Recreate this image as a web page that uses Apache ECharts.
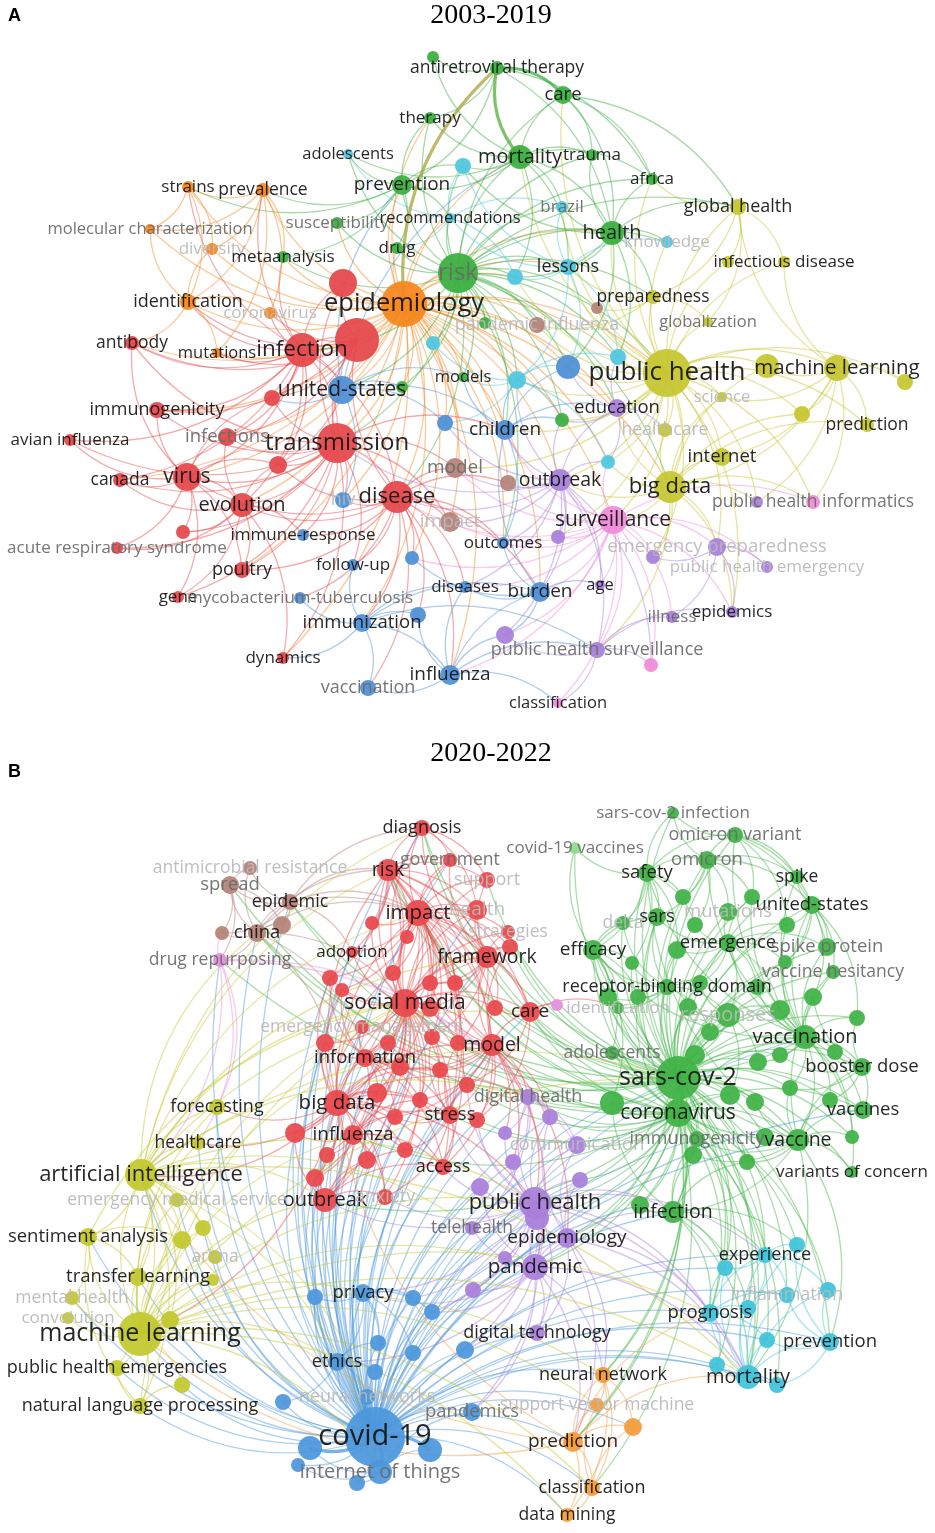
<!DOCTYPE html>
<html>
<head>
<meta charset="utf-8">
<title>Keyword co-occurrence networks</title>
<script src="https://cdn.jsdelivr.net/npm/echarts@6/dist/echarts.min.js"></script>
<style>
  html, body { margin: 0; padding: 0; background: #fff; }
  #chart { width: 935px; height: 1533px; }
</style>
</head>
<body>
<div id="chart"></div>
<script>
// node: [keyword, cluster, x, y, weight, labelTier]  (tier -1 = no label, 0 dark, 1 grey, 2 faint)
const nodesA = [
  ['infection', 'R', 302, 350, 17, 0], ['transmission', 'R', 337, 443, 20, 0], ['disease', 'R', 397, 497, 16, 0],
  ['virus', 'R', 187, 477, 14, 0], ['evolution', 'R', 242, 505, 12, 0], ['antibody', 'R', 132, 343, 7, 0],
  ['immunogenicity', 'R', 157, 410, 8, 0], ['infections', 'R', 227, 437, 9, 1], ['avian influenza', 'R', 70, 440, 6, 0],
  ['canada', 'R', 120, 480, 7, 0], ['acute respiratory syndrome', 'R', 117, 548, 6, 1], ['poultry', 'R', 242, 570, 8, 0],
  ['gene', 'R', 178, 597, 6, 0], ['dynamics', 'R', 283, 658, 6, 0], ['r1', 'R', 343, 283, 14, -1],
  ['r2', 'R', 357, 340, 22, -1], ['r3', 'R', 272, 398, 8, -1], ['r4', 'R', 278, 465, 9, -1], ['r5', 'R', 183, 532, 7, -1],
  ['epidemiology', 'O', 404, 304, 23, 0], ['strains', 'O', 188, 187, 6, 0], ['prevalence', 'O', 263, 190, 7, 0],
  ['molecular characterization', 'O', 150, 229, 5, 1], ['diversity', 'O', 212, 249, 6, 2], ['identification', 'O', 188, 302, 8, 0],
  ['coronavirus', 'O', 270, 313, 6, 2], ['mutations', 'O', 217, 353, 5, 0],
  ['g1', 'G', 433, 57, 6, -1], ['antiretroviral therapy', 'G', 497, 68, 7, 0], ['care', 'G', 563, 95, 9, 0],
  ['therapy', 'G', 430, 118, 6, 0], ['mortality', 'G', 520, 157, 12, 0], ['trauma', 'G', 592, 155, 6, 0],
  ['prevention', 'G', 402, 185, 10, 0], ['susceptibility', 'G', 337, 223, 6, 1], ['metaanalysis', 'G', 283, 257, 6, 0],
  ['drug', 'G', 397, 248, 6, 0], ['risk', 'G', 458, 273, 20, 1], ['health', 'G', 612, 233, 12, 0], ['africa', 'G', 652, 179, 6, 0],
  ['g2', 'G', 485, 323, 6, -1], ['models', 'G', 463, 377, 5, 0], ['g3', 'G', 402, 387, 6, -1], ['g4', 'G', 562, 420, 7, -1],
  ['adolescents', 'C', 348, 154, 5, 0], ['c1', 'C', 463, 166, 8, -1], ['recommendations', 'C', 450, 218, 5, 0],
  ['brazil', 'C', 562, 207, 6, 1], ['lessons', 'C', 568, 267, 8, 0], ['knowledge', 'C', 667, 242, 6, 2],
  ['c2', 'C', 515, 277, 8, -1], ['c3', 'C', 433, 343, 7, -1], ['c4', 'C', 517, 380, 9, -1], ['c5', 'C', 618, 357, 8, -1],
  ['c6', 'C', 608, 462, 7, -1],
  ['united-states', 'B', 342, 390, 14, 0], ['b1', 'B', 568, 367, 12, -1], ['children', 'B', 505, 430, 10, 0],
  ['b2', 'B', 445, 423, 8, -1], ['hiv', 'B', 343, 500, 8, 2], ['immune-response', 'B', 303, 535, 6, 0],
  ['follow-up', 'B', 353, 565, 6, 0], ['b3', 'B', 412, 558, 7, -1], ['outcomes', 'B', 503, 543, 6, 0],
  ['mycobacterium-tuberculosis', 'B', 300, 598, 6, 1], ['immunization', 'B', 362, 623, 9, 0], ['b4', 'B', 418, 615, 8, -1],
  ['diseases', 'B', 465, 587, 6, 0], ['burden', 'B', 540, 592, 10, 0], ['influenza', 'B', 450, 675, 10, 0],
  ['vaccination', 'B', 368, 688, 8, 1],
  ['public health', 'Y', 667, 373, 24, 0], ['global health', 'Y', 738, 207, 8, 0], ['y1', 'Y', 728, 262, 6, -1],
  ['infectious disease', 'Y', 784, 262, 6, 0], ['preparedness', 'Y', 653, 297, 7, 0], ['globalization', 'Y', 708, 322, 5, 1],
  ['y2', 'Y', 767, 366, 12, -1], ['machine learning', 'Y', 837, 368, 13, 0], ['y3', 'Y', 905, 382, 8, -1],
  ['science', 'Y', 722, 397, 5, 2], ['y4', 'Y', 802, 414, 8, -1], ['prediction', 'Y', 867, 425, 7, 0],
  ['healthcare', 'Y', 665, 430, 7, 2], ['internet', 'Y', 722, 457, 9, 0], ['big data', 'Y', 670, 487, 16, 0],
  ['education', 'P', 617, 408, 9, 0], ['outbreak', 'P', 560, 480, 11, 0], ['p1', 'P', 757, 502, 6, -1],
  ['p2', 'P', 558, 537, 7, -1], ['emergency preparedness', 'P', 717, 547, 9, 2], ['p3', 'P', 653, 557, 7, -1],
  ['public health emergency', 'P', 767, 567, 6, 2], ['age', 'P', 600, 585, 5, 0], ['illness', 'P', 672, 617, 6, 1],
  ['epidemics', 'P', 732, 612, 6, 0], ['p4', 'P', 505, 635, 9, -1], ['public health surveillance', 'P', 597, 650, 8, 1],
  ['surveillance', 'K', 613, 520, 14, 0], ['public health informatics', 'K', 813, 502, 7, 1], ['k1', 'K', 651, 665, 7, -1],
  ['classification', 'K', 558, 703, 5, 0],
  ['pandemic influenza', 'N', 537, 325, 8, 2], ['n1', 'N', 597, 308, 6, -1], ['model', 'N', 455, 468, 10, 1],
  ['impact', 'N', 450, 522, 10, 2], ['n2', 'N', 508, 483, 8, -1]
];

const linksA = [
  ['epidemiology', 'infection|transmission|disease|virus|evolution|r1|r2|risk|prevention|mortality|prevalence|strains|identification|molecular characterization|diversity|coronavirus|mutations|united-states|children|public health|big data|surveillance|outbreak|model|impact|health|lessons|c3|c4|b2|infections|immunogenicity|antibody|canada|metaanalysis|drug|susceptibility|recommendations|pandemic influenza|g2|models|c2|education|burden|influenza|immunization|hiv|dynamics|poultry|therapy|g3|c5|c6|b1|b3|g4|n2|outcomes'],
  ['risk', 'prevention|mortality|health|therapy|care|adolescents|c1|recommendations|brazil|lessons|c2|public health|global health|children|b1|c4|c5|outcomes|disease|transmission|infection|metaanalysis|drug|susceptibility|knowledge|africa|trauma|preparedness|big data|education|g2|c3|g3|g4|models|pandemic influenza|n1|united-states'],
  ['public health', 'global health|infectious disease|y1|preparedness|globalization|y2|machine learning|y3|science|y4|prediction|healthcare|internet|big data|surveillance|education|b1|c5|c6|lessons|health|knowledge|brazil|outbreak|emergency preparedness|public health informatics|children|care|africa|mortality|p2|epidemics|model|n1|pandemic influenza|c4|g4|c2|p1|p3'],
  ['machine learning', 'y2|y3|y4|prediction|internet|big data|global health|infectious disease|science|public health informatics|p1'],
  ['big data', 'internet|surveillance|public health informatics|p1|emergency preparedness|healthcare|science|prediction|y4|outbreak|public health surveillance|epidemics|education|p3|y2|c6'],
  ['surveillance', 'outbreak|p2|p3|emergency preparedness|public health emergency|age|illness|epidemics|p4|public health surveillance|k1|classification|burden|influenza|outcomes|children|n2|model|impact|public health informatics|c6|diseases|b3|disease'],
  ['outbreak', 'n2|model|impact|p2|p4|burden|diseases|outcomes|children|b2|age|public health surveillance|k1|education|c6|transmission|disease|c4|g4'],
  ['infection', 'transmission|virus|antibody|immunogenicity|infections|r1|r2|r3|mutations|identification|united-states|prevalence|strains|coronavirus|canada|evolution|disease|r4|avian influenza|metaanalysis'],
  ['transmission', 'virus|evolution|r3|r4|r2|infections|immunogenicity|canada|avian influenza|united-states|disease|poultry|gene|r5|acute respiratory syndrome|immune-response|hiv|model|impact|dynamics|follow-up|children|r1|antibody'],
  ['disease', 'hiv|immune-response|follow-up|b3|b4|impact|model|outcomes|diseases|burden|influenza|immunization|vaccination|mycobacterium-tuberculosis|evolution|virus|r4|n2|r2|poultry'],
  ['virus', 'canada|avian influenza|immunogenicity|infections|evolution|r5|acute respiratory syndrome|gene|poultry|antibody|r4|r3'],
  ['evolution', 'r5|poultry|gene|dynamics|acute respiratory syndrome|immune-response|canada|infections|r4'],
  ['r2', 'r1|r3|r4|antibody|immunogenicity|infections|mutations|identification|coronavirus'],
  ['united-states', 'r2|r3|children|hiv|models|g3|b2|mortality|prevention'],
  ['mortality', 'care|therapy|trauma|prevention|health|africa|g1|c1|adolescents|brazil|lessons|c2'],
  ['antiretroviral therapy', 'g1|therapy|prevention|health|africa'],
  ['care', 'health|trauma|global health|africa'],
  ['health', 'africa|trauma|brazil|lessons|knowledge|global health|preparedness|c5|c2|c1|b1'],
  ['lessons', 'c2|c5|brazil|knowledge|recommendations|c1|b1|c4'],
  ['c4', 'c3|c5|b1|models|g4|c6|b2'],
  ['recommendations', 'c1|adolescents|drug|brazil|c2'],
  ['prevention', 'adolescents|c1|therapy|susceptibility|drug|metaanalysis|recommendations|prevalence|strains'],
  ['prevalence', 'strains|molecular characterization|diversity|identification|metaanalysis|coronavirus|mutations'],
  ['strains', 'molecular characterization|identification|diversity'],
  ['identification', 'antibody|mutations|coronavirus|molecular characterization|diversity'],
  ['immunization', 'influenza|vaccination|b4|mycobacterium-tuberculosis|follow-up|dynamics|diseases|burden|public health surveillance'],
  ['influenza', 'vaccination|b4|burden|p4|public health surveillance|classification|diseases'],
  ['burden', 'diseases|age|p4|outcomes|b3|children'],
  ['children', 'b2|outcomes|b1|c4|education|g4|models'],
  ['education', 'c5|c6|g4|healthcare|b1'],
  ['public health surveillance', 'k1|illness|epidemics|p4|classification'],
  ['emergency preparedness', 'public health emergency|p3|epidemics|illness'],
  ['global health', 'infectious disease|y1|globalization|preparedness|africa'],
  ['preparedness', 'pandemic influenza|n1|globalization|lessons']
];
const strongA = [['antiretroviral therapy', 'care'], ['epidemiology', 'antiretroviral therapy'], ['mortality', 'antiretroviral therapy']];

const nodesB = [
  ['diagnosis', 'R', 422, 828, 8, 0], ['government', 'R', 450, 860, 7, 1], ['risk', 'R', 388, 870, 11, 0],
  ['support', 'R', 487, 880, 8, 2], ['impact', 'R', 418, 913, 13, 0], ['health', 'R', 477, 910, 10, 2],
  ['strategies', 'R', 508, 932, 7, 2], ['r1', 'R', 372, 923, 7, -1], ['r2', 'R', 407, 937, 7, -1], ['r3', 'R', 510, 947, 8, -1],
  ['adoption', 'R', 352, 952, 6, 0], ['framework', 'R', 487, 957, 11, 0], ['r4', 'R', 330, 978, 8, -1],
  ['r5', 'R', 342, 990, 7, -1], ['r6', 'R', 393, 973, 8, -1], ['r7', 'R', 430, 983, 8, -1], ['r8', 'R', 455, 983, 8, -1],
  ['social media', 'R', 405, 1003, 14, 0], ['r9', 'R', 430, 1008, 9, -1], ['r10', 'R', 495, 1008, 8, -1],
  ['care', 'R', 530, 1012, 10, 0], ['emergency management', 'R', 362, 1027, 7, 2], ['r11', 'R', 325, 1043, 9, -1],
  ['r12', 'R', 388, 1043, 8, -1], ['r13', 'R', 432, 1037, 8, -1], ['r14', 'R', 458, 1043, 8, -1],
  ['information', 'R', 365, 1058, 9, 0], ['model', 'R', 492, 1045, 11, 0], ['r15', 'R', 440, 1070, 8, -1],
  ['r16', 'R', 400, 1067, 9, -1], ['r17', 'R', 467, 1085, 8, -1], ['r18', 'R', 377, 1093, 10, -1],
  ['big data', 'R', 337, 1103, 13, 0], ['r19', 'R', 420, 1100, 8, -1], ['stress', 'R', 450, 1115, 9, 0],
  ['r20', 'R', 477, 1120, 8, -1], ['r21', 'R', 295, 1133, 10, -1], ['influenza', 'R', 353, 1135, 10, 0],
  ['r22', 'R', 395, 1117, 8, -1], ['r23', 'R', 405, 1150, 8, -1], ['r24', 'R', 327, 1155, 8, -1],
  ['access', 'R', 443, 1167, 8, 0], ['r25', 'R', 367, 1160, 9, -1], ['r26', 'R', 315, 1178, 9, -1],
  ['outbreak', 'R', 325, 1200, 12, 0], ['anxiety', 'R', 385, 1197, 8, 2],
  ['antimicrobial resistance', 'N', 250, 868, 7, 2], ['spread', 'N', 230, 885, 9, 1], ['epidemic', 'N', 290, 902, 8, 0],
  ['n1', 'N', 282, 925, 9, -1], ['china', 'N', 257, 933, 9, 0], ['n2', 'N', 222, 933, 7, -1],
  ['drug repurposing', 'K', 220, 960, 7, 1], ['k1', 'K', 557, 1005, 6, -1],
  ['sars-cov-2 infection', 'G', 673, 813, 6, 1], ['omicron variant', 'G', 735, 835, 8, 1], ['covid-19 vaccines', 'L', 575, 848, 6, 1],
  ['omicron', 'G', 707, 860, 9, 1], ['safety', 'G', 647, 873, 9, 0], ['spike', 'G', 797, 877, 7, 0],
  ['g1', 'G', 683, 897, 8, -1], ['g2', 'G', 752, 897, 8, -1], ['united-states', 'G', 812, 905, 9, 0],
  ['mutations', 'G', 728, 912, 9, 2], ['sars', 'G', 657, 917, 9, 0], ['delta', 'G', 623, 923, 7, 2],
  ['g3', 'G', 695, 925, 8, -1], ['g4', 'G', 787, 925, 8, -1], ['efficacy', 'G', 593, 950, 10, 0],
  ['g5', 'G', 677, 950, 9, -1], ['emergence', 'G', 728, 943, 9, 0], ['spike protein', 'G', 827, 947, 9, 1],
  ['g6', 'G', 785, 962, 7, -1], ['vaccine hesitancy', 'G', 833, 972, 7, 1], ['g7', 'G', 632, 963, 7, -1],
  ['receptor-binding domain', 'G', 667, 987, 8, 0], ['g8', 'G', 700, 983, 8, -1], ['g9', 'G', 757, 987, 8, -1],
  ['g10', 'G', 608, 997, 9, -1], ['g11', 'G', 638, 997, 8, -1], ['g12', 'G', 813, 997, 9, -1], ['g13', 'G', 688, 1007, 9, -1],
  ['responses', 'G', 728, 1015, 12, 2], ['g14', 'G', 780, 1010, 10, -1], ['identification', 'G', 618, 1008, 6, 2],
  ['g15', 'G', 857, 1018, 8, -1], ['g16', 'G', 710, 1032, 9, -1], ['vaccination', 'G', 805, 1037, 12, 0],
  ['adolescents', 'G', 612, 1053, 7, 1], ['g17', 'G', 695, 1055, 10, -1], ['g18', 'G', 758, 1062, 9, -1],
  ['g19', 'G', 780, 1055, 8, -1], ['g20', 'G', 835, 1052, 8, -1], ['booster dose', 'G', 862, 1067, 9, 0],
  ['sars-cov-2', 'G', 678, 1078, 22, 0], ['g21', 'G', 730, 1095, 10, -1], ['g22', 'G', 790, 1088, 8, -1],
  ['g23', 'G', 755, 1102, 9, -1], ['coronavirus', 'G', 678, 1113, 14, 0], ['g24', 'G', 612, 1103, 12, -1],
  ['g25', 'G', 830, 1100, 8, -1], ['vaccines', 'G', 863, 1110, 9, 0], ['immunogenicity', 'G', 697, 1139, 8, 1],
  ['g26', 'G', 693, 1155, 9, -1], ['g27', 'G', 747, 1162, 8, -1], ['g28', 'G', 765, 1137, 9, -1],
  ['vaccine', 'G', 798, 1140, 11, 0], ['g29', 'G', 852, 1137, 7, -1], ['variants of concern', 'G', 852, 1172, 6, 0],
  ['g30', 'G', 640, 1205, 9, -1], ['infection', 'G', 673, 1212, 11, 0],
  ['c1', 'C', 725, 1268, 8, -1], ['experience', 'C', 765, 1255, 8, 0], ['c2', 'C', 797, 1245, 8, -1],
  ['inflammation', 'C', 787, 1295, 8, 2], ['c3', 'C', 828, 1290, 8, -1], ['prognosis', 'C', 710, 1313, 9, 0],
  ['c4', 'C', 748, 1308, 8, -1], ['c5', 'C', 767, 1340, 8, -1], ['prevention', 'C', 830, 1342, 9, 0],
  ['c6', 'C', 717, 1365, 8, -1], ['mortality', 'C', 748, 1377, 12, 0], ['c7', 'C', 777, 1385, 8, -1],
  ['digital health', 'P', 528, 1097, 8, 1], ['p1', 'P', 550, 1117, 8, -1], ['p2', 'P', 505, 1133, 7, -1],
  ['communication', 'P', 577, 1145, 9, 2], ['p3', 'P', 513, 1162, 8, -1], ['p4', 'P', 480, 1187, 9, -1],
  ['p5', 'P', 580, 1180, 8, -1], ['public health', 'P', 535, 1203, 16, 0], ['p6', 'P', 537, 1218, 12, -1],
  ['telehealth', 'P', 472, 1228, 7, 1], ['epidemiology', 'P', 567, 1238, 10, 0], ['p7', 'P', 505, 1258, 7, -1],
  ['pandemic', 'P', 535, 1267, 13, 0], ['p8', 'P', 473, 1290, 8, -1], ['digital technology', 'P', 537, 1333, 8, 0],
  ['privacy', 'B', 363, 1293, 9, 0], ['b1', 'B', 315, 1297, 8, -1], ['b2', 'B', 413, 1298, 8, -1],
  ['b3', 'B', 432, 1312, 8, -1], ['b4', 'B', 378, 1343, 8, -1], ['b5', 'B', 413, 1353, 8, -1],
  ['b6', 'B', 465, 1350, 9, -1], ['ethics', 'B', 337, 1362, 9, 0], ['b7', 'B', 375, 1372, 8, -1],
  ['neural networks', 'B', 367, 1397, 8, 2], ['b8', 'B', 283, 1402, 8, -1], ['pandemics', 'B', 472, 1412, 9, 1],
  ['covid-19', 'B', 375, 1437, 30, 0], ['b9', 'B', 430, 1450, 12, -1], ['b10', 'B', 310, 1448, 12, -1],
  ['internet of things', 'B', 380, 1472, 12, 1], ['b11', 'B', 357, 1483, 8, -1], ['b12', 'B', 298, 1465, 7, -1],
  ['neural network', 'O', 603, 1375, 8, 0], ['support vector machine', 'O', 597, 1405, 7, 2], ['o1', 'O', 633, 1427, 9, -1],
  ['prediction', 'O', 573, 1442, 10, 0], ['classification', 'O', 592, 1488, 8, 0], ['data mining', 'O', 567, 1515, 7, 0],
  ['forecasting', 'Y', 217, 1107, 8, 0], ['healthcare', 'Y', 198, 1143, 7, 0], ['artificial intelligence', 'Y', 141, 1175, 16, 0],
  ['emergency medical service', 'Y', 177, 1200, 7, 2], ['sentiment analysis', 'Y', 88, 1237, 9, 0],
  ['y1', 'Y', 182, 1240, 9, -1], ['y2', 'Y', 203, 1228, 8, -1], ['arima', 'Y', 215, 1257, 7, 2],
  ['transfer learning', 'Y', 138, 1277, 9, 0], ['y3', 'Y', 213, 1280, 6, -1], ['mental health', 'Y', 72, 1298, 7, 2],
  ['convolution', 'Y', 68, 1318, 6, 2], ['y4', 'Y', 170, 1320, 9, -1], ['machine learning', 'Y', 140, 1334, 22, 0],
  ['public health emergencies', 'Y', 117, 1368, 8, 0], ['y5', 'Y', 182, 1385, 8, -1],
  ['natural language processing', 'Y', 140, 1406, 8, 0]
];

const linksB = [
  ['covid-19', 'machine learning|artificial intelligence|natural language processing|public health emergencies|transfer learning|sentiment analysis|forecasting|healthcare|y1|y2|y4|y5|mental health|arima|privacy|b1|b2|b3|b4|b5|b6|b7|b8|b9|b10|b11|b12|ethics|neural networks|pandemics|internet of things|public health|pandemic|epidemiology|telehealth|digital technology|digital health|communication|p1|p3|p4|p5|p6|p7|p8|neural network|support vector machine|prediction|classification|data mining|o1|mortality|prognosis|prevention|experience|c1|c5|c6|c7|inflammation|sars-cov-2|coronavirus|infection|vaccine|vaccination|vaccines|g24|g30|immunogenicity|big data|social media|outbreak|influenza|information|model|stress|access|anxiety|care|impact|risk|r18|r21|r24|r26|china|epidemic|drug repurposing|emergency medical service|diagnosis|framework|r16|r22|r25|r4|r5|r11|r12|r13|r15|r19|r23|adoption|emergency management|government|health|r17|r20'],
  ['sars-cov-2', 'sars-cov-2 infection|omicron variant|covid-19 vaccines|omicron|safety|spike|g1|g2|united-states|mutations|sars|delta|g3|g4|efficacy|g5|emergence|spike protein|g6|vaccine hesitancy|g7|receptor-binding domain|g8|g9|g10|g11|g12|g13|responses|g14|identification|g15|g16|vaccination|adolescents|g17|g18|g19|g20|booster dose|g21|g22|g23|coronavirus|g24|g25|vaccines|immunogenicity|g26|g27|g28|vaccine|g29|variants of concern|g30|infection|mortality|prognosis|experience|prevention|c1|c4|c6|inflammation|public health|pandemic|epidemiology|social media|model|care|risk|impact|diagnosis|china|epidemic|drug repurposing|framework|prediction|neural network|digital health|r10|r14|r3|strategies|support'],
  ['coronavirus', 'sars|efficacy|g10|g11|g13|g16|g17|g21|g24|g26|infection|g30|immunogenicity|vaccine|vaccines|vaccination|mortality|prognosis|experience|c1|c5|public health|pandemic|p5|p6|epidemiology|communication|digital health|care|model|stress|r17|r20|outbreak|influenza|china|spread|epidemic|risk|impact|diagnosis|prediction|classification|neural network|c2|c3|c7|p1'],
  ['vaccination', 'g9|g12|g14|g15|g18|g19|g20|booster dose|vaccines|vaccine|vaccine hesitancy|spike protein|g6|g22|g25|g29|variants of concern|omicron|omicron variant|safety|efficacy|adolescents|g4|united-states|spike|g2|emergence'],
  ['vaccine', 'vaccines|g28|g27|g29|variants of concern|booster dose|g25|g22|g23|immunogenicity|g26|safety|efficacy|vaccine hesitancy|infection|adolescents|mortality|prevention'],
  ['safety', 'sars-cov-2 infection|omicron|omicron variant|sars|delta|g1|efficacy|g7|covid-19 vaccines|g3|g5'],
  ['omicron', 'omicron variant|sars-cov-2 infection|g1|g2|g3|mutations|sars|spike|united-states'],
  ['omicron variant', 'spike|g2|united-states|g4|spike protein|sars-cov-2 infection'],
  ['united-states', 'spike|g4|g6|spike protein|vaccine hesitancy|g12|g15|g9'],
  ['emergence', 'mutations|g2|g3|g4|g5|g6|g8|g9|spike protein|receptor-binding domain|responses|g14|sars'],
  ['receptor-binding domain', 'g7|g8|g10|g11|g13|responses|g16|sars|delta|efficacy|identification|g5'],
  ['efficacy', 'g7|g10|g11|delta|sars|adolescents|g24|identification|covid-19 vaccines'],
  ['booster dose', 'g20|g22|g25|vaccines|g15|g19|g12'],
  ['responses', 'g13|g14|g16|g17|g18|g21|g9|g8'],
  ['infection', 'g30|g26|g27|immunogenicity|g24|vaccine|mortality|prognosis|experience|c1|c2|c4'],
  ['mortality', 'c1|c4|c5|c6|c7|prognosis|prevention|inflammation|experience|c2|c3'],
  ['prognosis', 'c4|c1|experience|inflammation|c5|c6'],
  ['experience', 'c1|c2|c3|inflammation|c4'],
  ['prevention', 'c3|c5|c7|inflammation|c2'],
  ['social media', 'r1|r2|r3|r4|r5|r6|r7|r8|r9|r10|r11|r12|r13|r14|r15|r16|r17|r18|r19|risk|impact|framework|adoption|information|model|care|big data|influenza|stress|emergency management|health|strategies|support|government|diagnosis|access|outbreak|anxiety|r21|r22|r23|r24|r25|r26'],
  ['big data', 'r11|r16|r18|r19|r21|r22|r23|r24|r25|r26|information|influenza|stress|access|outbreak|anxiety|emergency management|r4|r5|framework|impact|model|forecasting|healthcare|artificial intelligence|machine learning|public health|digital health|r12|r15|r6|risk'],
  ['impact', 'risk|diagnosis|government|support|health|strategies|r1|r2|r3|adoption|framework|r6|r7|r8|model|care|information|r13|r14|stress|access|r4|r5|r9|r10|r12|r16'],
  ['risk', 'diagnosis|government|support|r1|r2|adoption|framework|health|r6|r9|model|care|stress|r4|r7|r8|information'],
  ['model', 'care|framework|r3|r8|r9|r10|r13|r14|r15|r17|r20|stress|information|r19|access|digital health|p1|p2|p3|public health|epidemiology|pandemic|r7|r12|r16|r22'],
  ['framework', 'health|strategies|r3|r10|r8|care|support|government|diagnosis|r7|r9|r13|r14'],
  ['information', 'r11|r12|r15|r16|r18|r4|r5|emergency management|influenza|access|r19|r22|stress'],
  ['influenza', 'r21|r22|r23|r24|r25|r26|access|outbreak|anxiety|stress|r18|r19'],
  ['outbreak', 'r24|r25|r26|anxiety|access|r21|r23'],
  ['stress', 'r15|r17|r19|r20|r22|r23|access|anxiety|r13|r14'],
  ['diagnosis', 'government|support|health'],
  ['care', 'r10|r20|r17|identification|k1'],
  ['china', 'spread|epidemic|n1|n2|antimicrobial resistance|drug repurposing|risk|impact|social media|big data|information'],
  ['epidemic', 'spread|n1|antimicrobial resistance|n2|risk|diagnosis|impact|adoption|framework'],
  ['spread', 'antimicrobial resistance|n2|n1|drug repurposing'],
  ['drug repurposing', 'n2|forecasting|healthcare|artificial intelligence|digital health|communication'],
  ['public health', 'digital health|p1|p2|communication|p3|p4|p5|p6|telehealth|epidemiology|pandemic|p7|p8|digital technology|access|stress|r20|r17|outbreak|anxiety|privacy|b2|b3|b6|pandemics|mortality|infection|experience|prognosis'],
  ['pandemic', 'p6|p7|p8|telehealth|epidemiology|digital technology|p4|p5|privacy|b3|b6|pandemics|ethics|infection|neural network|prediction|mortality'],
  ['epidemiology', 'p5|p6|communication|p1|digital technology|prediction|neural network|mortality|prognosis'],
  ['digital health', 'p1|p2|communication|p3|telehealth'],
  ['privacy', 'b1|b2|b3|ethics|b4|b5|b7'],
  ['ethics', 'b1|b4|b7|b8|neural networks'],
  ['internet of things', 'b9|b10|b11|b12|neural networks|pandemics'],
  ['prediction', 'neural network|support vector machine|o1|classification|data mining|machine learning|artificial intelligence|mortality|prognosis|big data'],
  ['neural network', 'support vector machine|o1|classification|data mining'],
  ['classification', 'data mining|o1|support vector machine'],
  ['machine learning', 'y4|y5|public health emergencies|natural language processing|transfer learning|mental health|convolution|sentiment analysis|y1|y2|y3|arima|artificial intelligence|forecasting|healthcare|emergency medical service|big data|social media|classification|data mining|neural network|support vector machine|mortality|prognosis|sars-cov-2|public health|pandemic|information|influenza|outbreak|privacy|ethics|internet of things'],
  ['artificial intelligence', 'healthcare|forecasting|emergency medical service|sentiment analysis|y1|y2|arima|transfer learning|y4|public health emergencies|natural language processing|social media|diagnosis|framework|impact|risk|care|public health|mortality|sars-cov-2|digital health|telehealth|outbreak|internet of things|neural networks|china'],
  ['natural language processing', 'public health emergencies|y5|sentiment analysis|social media'],
  ['sentiment analysis', 'transfer learning|mental health|y1|social media']
];
const strongB = [['covid-19', 'b9'], ['covid-19', 'b10'], ['covid-19', 'internet of things'], ['sars-cov-2', 'coronavirus']];

const colorsA = { R: '#e5474b', O: '#f5871c', G: '#3aae3e', C: '#4fc6df', B: '#4d8fd5', Y: '#c6c62f', P: '#a780da', K: '#ef8bd9', N: '#b4827a' };
const colorsB = { R: '#e8484c', G: '#40b346', L: '#8fdc8a', C: '#3fc3d8', B: '#4c97dc', Y: '#c2c82c', P: '#a97fdb', O: '#f39b3b', N: '#b58279', K: '#e58fe0' };
const labelColors = ['#141414', '#6b6b6b', '#b9b9b9'];

function labelSize(w) {
  return Math.min(30, 14 + 0.5 * w);
}

function buildGraph(nodes, adj, strong, colors, strongColor) {
  const colorOf = {};
  nodes.forEach(n => { colorOf[n[0]] = colors[n[1]]; });
  const data = nodes.map(([name, cl, x, y, w, tier]) => ({
    name: name,
    value: [x, y],
    symbolSize: w * 2,
    itemStyle: { color: colors[cl], opacity: 0.93 },
    label: tier < 0 ? { show: false } : {
      show: true, position: 'inside', fontSize: labelSize(w), color: labelColors[tier],
      fontFamily: 'Open Sans', formatter: '{b}'
    }
  }));
  const seen = new Set();
  const links = [];
  const strongKeys = new Set(strong.map(p => [p[0], p[1]].sort().join('~')));
  for (const [src, list] of adj) {
    for (const t of list.split('|')) {
      if (!colorOf[src] || !colorOf[t] || src === t) { console.warn('skip', src, t); continue; }
      const key = [src, t].sort().join('~');
      if (seen.has(key) || strongKeys.has(key)) continue;
      seen.add(key);
      links.push({ source: src, target: t, lineStyle: { color: colorOf[src] } });
    }
  }
  strong.forEach(([s, t], i) => {
    const ls = { width: 3.2, opacity: 0.75, color: (strongColor && strongColor[i]) || colorOf[s] };
    links.push({ source: s, target: t, lineStyle: ls });
  });
  return { data, links };
}

const gA = buildGraph(nodesA, linksA, strongA, colorsA, ['#3aae3e', '#a5a33c', '#58ad3a']);
const gB = buildGraph(nodesB, linksB, strongB, colorsB, null);

const chart = echarts.init(document.getElementById('chart'), null, { renderer: 'canvas' });

function graphSeries(g) {
  return {
    type: 'graph',
    coordinateSystem: 'cartesian2d',
    data: g.data,
    links: g.links,
    silent: true,
    animation: false,
    edgeSymbol: ['none', 'none'],
    lineStyle: { curveness: 0.25, opacity: 0.45, width: 1.3 },
    emphasis: { disabled: true }
  };
}

chart.setOption({
  animation: false,
  backgroundColor: '#fff',
  grid: { left: 0, right: 0, top: 0, bottom: 0 },
  xAxis: { type: 'value', min: 0, max: 935, show: false },
  yAxis: { type: 'value', min: 0, max: 1533, inverse: true, show: false },
  graphic: [
    { type: 'text', x: 8, y: 7, style: { text: 'A', font: 'bold 18px "Liberation Sans", Arial, sans-serif', fill: '#000' } },
    { type: 'text', x: 491, y: 16, style: { text: '2003-2019', font: '28px "Liberation Serif", "Times New Roman", serif', fill: '#000', textAlign: 'center', textVerticalAlign: 'middle' } },
    { type: 'text', x: 8, y: 763, style: { text: 'B', font: 'bold 18px "Liberation Sans", Arial, sans-serif', fill: '#000' } },
    { type: 'text', x: 491, y: 754, style: { text: '2020-2022', font: '28px "Liberation Serif", "Times New Roman", serif', fill: '#000', textAlign: 'center', textVerticalAlign: 'middle' } }
  ],
  series: [graphSeries(gA), graphSeries(gB)]
});
</script>
</body>
</html>
